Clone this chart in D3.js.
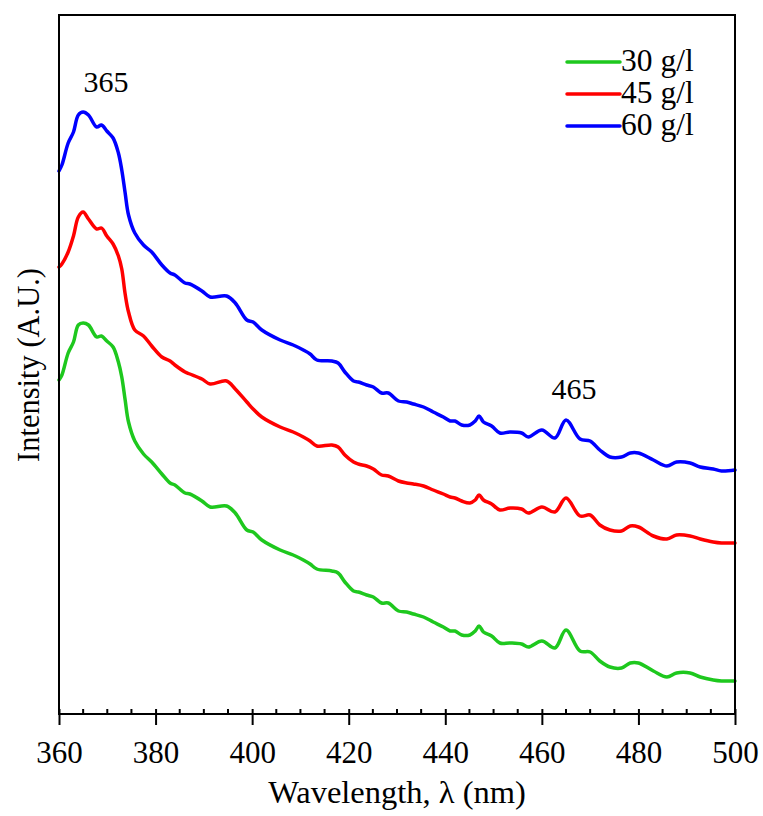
<!DOCTYPE html>
<html><head><meta charset="utf-8">
<script src="https://cdn.jsdelivr.net/npm/d3@7"></script>
<style>html,body{margin:0;padding:0;background:#fff;}svg{display:block;}</style>
</head><body>
<script>
const wavelengths = [360.0,360.6,361.9,363.0,364.0,365.0,366.1,367.8,368.8,369.9,371.2,372.3,373.0,373.7,374.4,375.7,377.5,379.2,381.3,383.0,384.0,386.1,387.1,389.6,391.3,394.7,396.5,398.9,400.2,402.0,405.8,408.5,410.6,412.0,413.4,416.5,417.8,419.2,421.0,422.0,423.7,425.1,426.8,428.2,430.3,432.0,433.4,435.5,437.5,439.6,441.0,442.0,443.4,445.1,446.2,447.0,447.9,449.6,451.3,453.4,455.8,457.2,460.0,462.7,465.0,467.9,470.0,472.0,474.1,476.5,478.3,480.0,483.1,485.9,487.9,490.7,492.8,495.5,497.2,500.0];
const series30 = [334,339,361,372,389,391,389,377,378,373,367,352,337,314,292,273,260,252,240,231,229,221,220,213,207,208,201,184,182,174,164,159,154,150,145,143,141,132,123,122,119,117,111,111,103,102,100,97,92,87,83,83,79,79,83,88,82,78,71,71,70,67,73,66,84,63,62,53,47,46,51,51,43,37,41,41,37,34,33,33];
const series45 = [447,450,462,478,497,502,495,485,486,478,470,458,445,420,402,384,378,368,357,353,349,342,340,335,330,333,325,312,305,297,287,282,277,273,268,269,267,259,252,250,248,245,239,238,233,231,230,228,224,220,217,216,213,211,214,219,214,210,204,206,205,201,207,202,216,198,199,189,184,183,188,187,178,175,179,178,175,172,171,171];
const series60 = [543,549,571,582,599,602,599,587,589,583,576,561,544,521,499,481,469,462,449,441,439,431,430,423,417,418,411,394,392,384,374,369,364,360,354,353,351,342,333,332,329,327,321,321,313,312,310,307,302,297,293,293,289,289,293,298,292,288,281,282,281,277,284,276,294,275,273,264,257,257,261,261,254,248,252,251,247,245,243,244];
const seriesNames = ["30 g/l","45 g/l","60 g/l"];
const seriesColors = ["#1ec81e","#ff0000","#0000ff"];
const xTicks = [360,380,400,420,440,460,480,500];
const peakLabels = [{x:365, text:"365"},{x:465, text:"465"}];

const W = 763, H = 816;
const mLeft = 59, mRight = 735, mTop = 15, mBottom = 714;
const svg = d3.select("body").append("svg").attr("width", W).attr("height", H);
const font = "'Liberation Serif','Times New Roman',serif";

const x = d3.scaleLinear().domain([360,500]).range([mLeft,mRight]);
const y = d3.scaleLinear().domain([0,699]).range([mBottom,mTop]);

// lines
const allSeries = [series30, series45, series60];
const line = d3.line().x((d,i)=>x(wavelengths[i])).y(d=>y(d)).curve(d3.curveCatmullRom.alpha(0.5));
svg.append("g").selectAll("path").data(allSeries).join("path")
  .attr("d", d=>line(d)).attr("fill","none")
  .attr("stroke",(d,i)=>seriesColors[i]).attr("stroke-width",3.5)
  .attr("stroke-linejoin","round").attr("stroke-linecap","round");

// frame
svg.append("rect").attr("x",mLeft).attr("y",mTop).attr("width",mRight-mLeft).attr("height",mBottom-mTop)
  .attr("fill","none").attr("stroke","#000").attr("stroke-width",2);

// minor ticks (inside)
const minor = d3.range(365,500,5).filter(v => v % 20 !== 0);
svg.append("g").selectAll("line").data(minor).join("line")
  .attr("x1",d=>x(d)).attr("x2",d=>x(d)).attr("y1",mBottom-5).attr("y2",mBottom)
  .attr("stroke","#000").attr("stroke-width",2);

// major ticks via axis
const xAxis = d3.axisBottom(x).tickValues(xTicks).tickSize(11).tickPadding(16).tickFormat(d3.format("d"));
const gx = svg.append("g").attr("transform",`translate(0,${mBottom})`).call(xAxis);
gx.select(".domain").remove();
gx.selectAll(".tick line").attr("y1",-5).attr("stroke","#000").attr("stroke-width",2);
gx.selectAll(".tick text").attr("font-family",font).attr("font-size",31).attr("fill","#000")
  .attr("y",49).attr("dy",null);

// axis titles
svg.append("text").attr("x",397).attr("y",803).attr("text-anchor","middle")
  .attr("font-family",font).attr("font-size",32.5).text("Wavelength, λ (nm)");
svg.append("text").attr("transform","translate(39,365) rotate(-90)").attr("text-anchor","middle")
  .attr("font-family",font).attr("font-size",30.5).text("Intensity (A.U.)");

// peak labels
const peakPos = [[106, 92], [574, 399]];
svg.append("g").selectAll("text").data(peakLabels).join("text")
  .attr("x",(d,i)=>peakPos[i][0]).attr("y",(d,i)=>peakPos[i][1]).attr("text-anchor","middle")
  .attr("font-family",font).attr("font-size",30).text(d=>d.text);

// legend
const lg = svg.append("g");
seriesNames.forEach((n,i)=>{
  const ly = 62 + i*32;
  lg.append("line").attr("x1",567).attr("x2",620).attr("y1",ly).attr("y2",ly)
    .attr("stroke",seriesColors[i]).attr("stroke-width",3.5).attr("stroke-linecap","round");
  lg.append("text").attr("x",621).attr("y",ly+9).attr("font-family",font).attr("font-size",31.5).text(n);
});
</script>
</body></html>
